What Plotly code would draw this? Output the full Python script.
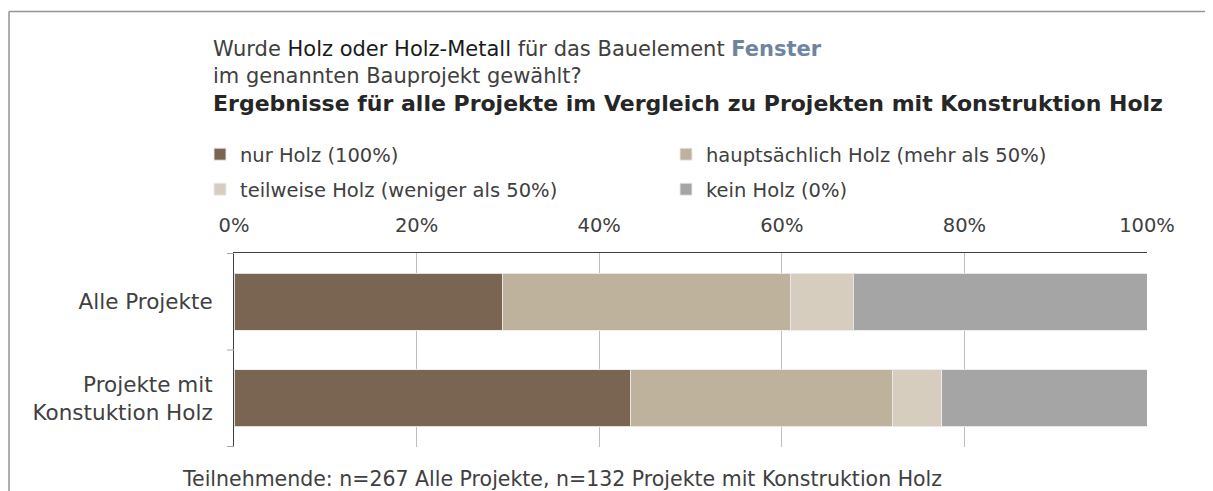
import plotly.graph_objects as go

categories = ["Alle Projekte", "Projekte mit<br>Konstuktion Holz"]
series_names = ["nur Holz (100%)", "hauptsächlich Holz (mehr als 50%)",
                "teilweise Holz (weniger als 50%)", "kein Holz (0%)"]
nur_holz = [29.4, 43.4]
hauptsaechlich = [31.5, 28.7]
teilweise = [6.9, 5.4]
kein_holz = [32.2, 22.5]
colors = ["#7a6552", "#bfb29d", "#d6cdbf", "#a5a5a5"]
legend_rows = ["legend", "legend", "legend2", "legend2"]
tick_vals = [0, 20, 40, 60, 80, 100]
tick_text = ["0%", "20%", "40%", "60%", "80%", "100%"]

FONT = "DejaVu Sans"
OFF = 8                      # page body margin of the browser
SW, SH = 1213, 491           # screenshot size
W, H = SW - OFF, SH - OFF    # figure size
# plot area in screenshot pixels
PL, PR, PT, PB = 234, 1147, 253, 447
ML, MR, MT, MB = PL - OFF, W - (PR - OFF), PT - OFF, H - (PB - OFF)
pw = PR - PL
ph = PB - PT


def px_x(sx):
    return (sx - PL) / pw


def px_y(sy):
    return 1 + (PT - sy) / ph


fig = go.Figure()
for name, vals, col, lg in zip(series_names, [nur_holz, hauptsaechlich, teilweise, kein_holz],
                               colors, legend_rows):
    fig.add_trace(go.Bar(
        y=categories, x=vals, name=name, orientation="h", legend=lg,
        marker=dict(color=col, line=dict(color="rgba(235,235,235,0.9)", width=1)),
        width=0.59, hoverinfo="x+name",
    ))

legend_common = dict(
    orientation="h", traceorder="normal", xanchor="left", yanchor="top",
    entrywidth=421, entrywidthmode="pixels",
    font=dict(family=FONT, size=19.5, color="#404040"),
    itemclick=False, bgcolor="rgba(0,0,0,0)",
)

fig.update_layout(
    width=W, height=H,
    margin=dict(l=ML, r=MR, t=MT, b=MB),
    barmode="stack",
    plot_bgcolor="white", paper_bgcolor="white",
    font=dict(family=FONT, size=18, color="#404040"),
    showlegend=True,
    legend=dict(x=px_x(200), y=px_y(135), **legend_common),
    legend2=dict(x=px_x(200), y=px_y(170), **legend_common),
    xaxis=dict(
        side="top", range=[0, 100], tickvals=tick_vals, ticktext=tick_text,
        showgrid=True, gridcolor="#bfbfbf", gridwidth=1,
        showline=True, linecolor="#404040", linewidth=1, mirror=False,
        zeroline=False, ticks="", tickfont=dict(family=FONT, size=19.5, color="#404040"),
        ticklabelstandoff=12, fixedrange=True,
    ),
    yaxis=dict(
        autorange="reversed", showline=True, linecolor="#404040", linewidth=1,
        ticks="", tickfont=dict(family=FONT, size=21.5, color="#404040"),
        ticklabelstandoff=16, showgrid=False, fixedrange=True,
    ),
    title=dict(
        text=("Wurde <span style='color:#1a1a1a'>Holz oder Holz-Metall</span> für das Bauelement "
              "<b><span style='color:#6f84a0'>Fenster</span></b>"
              "<br>im genannten Bauprojekt gewählt?"
              "<br><b><span style='color:#262626;font-size:22px'>Ergebnisse für alle Projekte im Vergleich zu Projekten mit Konstruktion Holz</span></b>"),
        x=(213 - OFF) / W, xanchor="left", xref="container",
        y=1 - 48 / H, yanchor="top", yref="container",
        font=dict(family=FONT, size=21, color="#404040"),
    ),
)

# category separator ticks on the y axis
for yy in [-0.5, 0.5, 1.5]:
    fig.add_shape(type="line", xref="paper", yref="y", x0=px_x(227), x1=0, y0=yy, y1=yy,
                  line=dict(color="#a6a6a6", width=1))

# outer frame
fig.add_shape(type="line", xref="paper", yref="paper", x0=px_x(9), x1=px_x(1230),
              y0=px_y(11.5), y1=px_y(11.5), line=dict(color="#949494", width=1.5))
fig.add_shape(type="line", xref="paper", yref="paper", x0=px_x(9), x1=px_x(9),
              y0=px_y(11.5), y1=px_y(520), line=dict(color="#949494", width=1.5))

fig.add_annotation(
    text="Teilnehmende: n=267 Alle Projekte, n=132 Projekte mit Konstruktion Holz",
    xref="paper", yref="paper", x=px_x(180), y=px_y(479), xanchor="left", yanchor="middle",
    showarrow=False, font=dict(family=FONT, size=20.5, color="#404040"),
)

fig.write_html("out.html")
